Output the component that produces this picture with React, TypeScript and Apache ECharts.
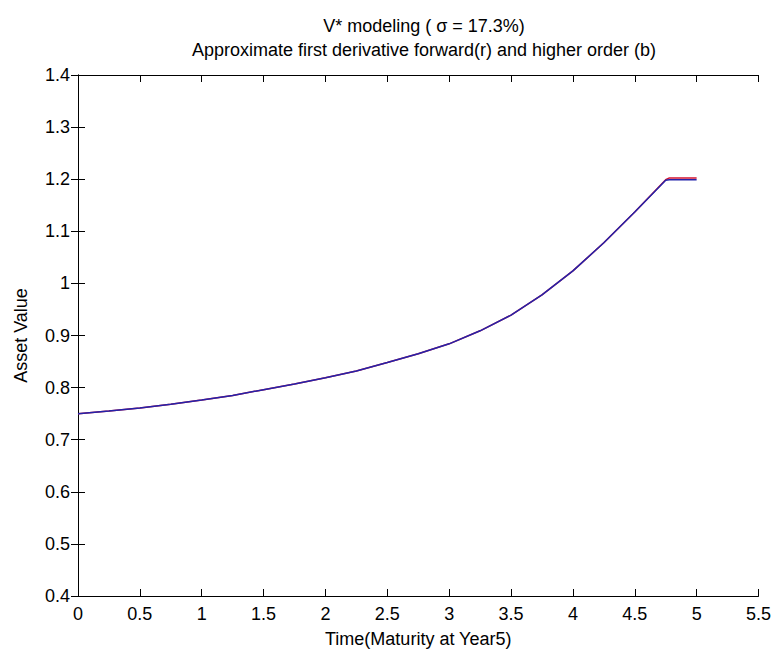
import React, { useEffect, useRef } from "react";
import * as echarts from "echarts";

const titleText = "V* modeling ( \u03c3 = 17.3%)";
const subtitleText = "Approximate first derivative forward(r) and higher order (b)";
const xAxisTitle = "Time(Maturity at Year5)";
const yAxisTitle = "Asset Value";

const time = [0, 0.25, 0.5, 0.75, 1.0, 1.25, 1.5, 1.75, 2.0, 2.25, 2.5, 2.75, 3.0, 3.25, 3.5, 3.75, 4.0, 4.25, 4.5, 4.75, 4.78, 5.0];
const valueForward = [0.750, 0.755, 0.761, 0.768, 0.776, 0.785, 0.796, 0.807, 0.819, 0.832, 0.848, 0.865, 0.884, 0.909, 0.939, 0.978, 1.024, 1.078, 1.137, 1.199, 1.2025, 1.2025];
const valueHigher = [0.750, 0.755, 0.761, 0.768, 0.776, 0.785, 0.796, 0.807, 0.819, 0.832, 0.848, 0.865, 0.884, 0.909, 0.939, 0.978, 1.024, 1.078, 1.137, 1.198, 1.199, 1.199];

const FONT = "Liberation Sans, Arial, sans-serif";

export default function App() {
  const ref = useRef<HTMLDivElement>(null);
  useEffect(() => {
    if (!ref.current) return;
    const chart = echarts.init(ref.current, undefined, { renderer: "svg" });
    const axisLine = { show: true, lineStyle: { color: "#000", width: 1 } };
    const tick = { show: true, inside: true, length: 7, lineStyle: { color: "#000", width: 1 } };
    const label = { color: "#000", fontSize: 18, fontFamily: FONT };
    chart.setOption({
      animation: false,
      backgroundColor: "#fff",
      title: [
        {
          text: titleText,
          left: 419,
          top: 12,
          textAlign: "center",
          textStyle: { fontSize: 18, fontWeight: "normal", color: "#000", fontFamily: FONT },
        },
        {
          text: subtitleText,
          left: 419,
          top: 36,
          textAlign: "center",
          textStyle: { fontSize: 18, fontWeight: "normal", color: "#000", fontFamily: FONT },
        },
      ],
      grid: { left: 78, right: 14, top: 75, bottom: 55, containLabel: false },
      xAxis: [
        {
          type: "value",
          min: 0,
          max: 5.5,
          interval: 0.5,
          position: "bottom",
          name: xAxisTitle,
          nameLocation: "middle",
          nameGap: 34,
          nameTextStyle: { color: "#000", fontSize: 18, fontFamily: FONT },
          axisLine,
          axisTick: tick,
          axisLabel: { ...label, margin: 9 },
          splitLine: { show: false },
        },
        {
          type: "value",
          min: 0,
          max: 5.5,
          interval: 0.5,
          position: "top",
          axisLine,
          axisTick: tick,
          axisLabel: { show: false },
          splitLine: { show: false },
        },
      ],
      yAxis: [
        {
          type: "value",
          min: 0.4,
          max: 1.4,
          interval: 0.1,
          position: "left",
          name: yAxisTitle,
          nameLocation: "middle",
          nameGap: 48,
          nameTextStyle: { color: "#000", fontSize: 18, fontFamily: FONT },
          axisLine,
          axisTick: tick,
          axisLabel: {
            ...label,
            margin: 8,
            formatter: (v: number) => String(Math.round(v * 10) / 10),
          },
          splitLine: { show: false },
        },
        {
          type: "value",
          min: 0.4,
          max: 1.4,
          interval: 0.1,
          position: "right",
          axisLine,
          axisTick: tick,
          axisLabel: { show: false },
          splitLine: { show: false },
        },
      ],
      series: [
        {
          name: "forward (r)",
          type: "line",
          xAxisIndex: 0,
          yAxisIndex: 0,
          data: time.map((t, i) => [t, valueForward[i]]),
          showSymbol: false,
          lineStyle: { color: "rgb(210,20,50)", width: 1.5 },
          z: 2,
        },
        {
          name: "higher order (b)",
          type: "line",
          xAxisIndex: 0,
          yAxisIndex: 0,
          data: time.map((t, i) => [t, valueHigher[i]]),
          showSymbol: false,
          lineStyle: { color: "rgb(35,35,170)", width: 1.5 },
          z: 3,
        },
      ],
    });
    return () => chart.dispose();
  }, []);
  return <div ref={ref} style={{ width: 774, height: 653, position: "absolute", left: 0, top: 0 }} />;
}
